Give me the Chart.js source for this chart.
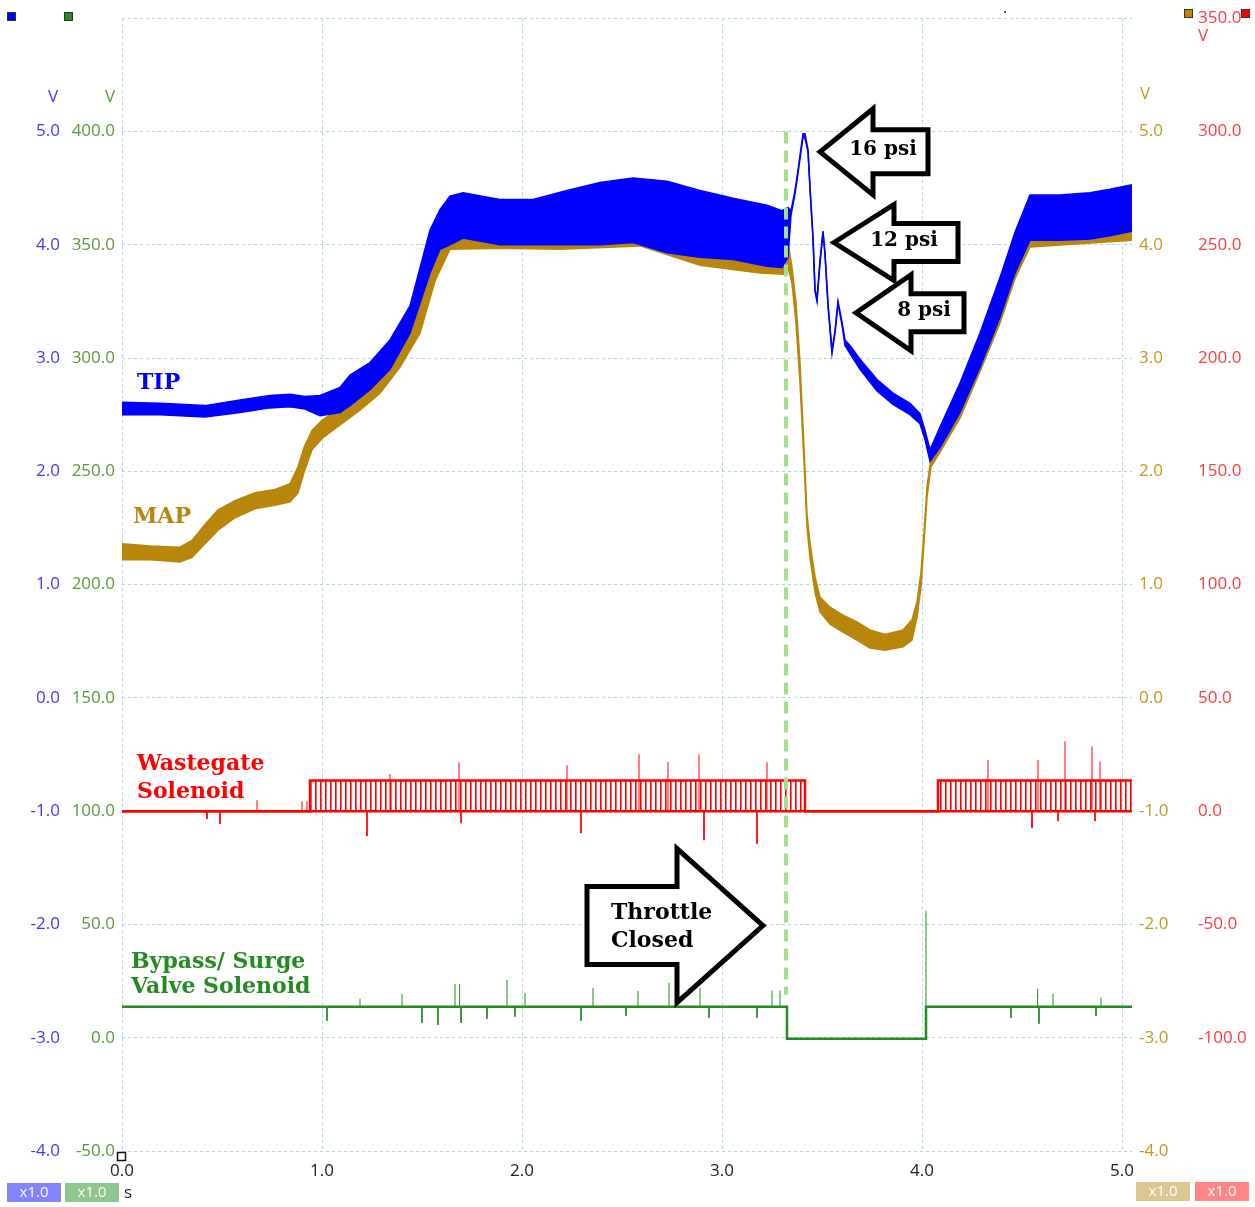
<!DOCTYPE html>
<html>
<head>
<meta charset="utf-8">
<script src="https://cdn.jsdelivr.net/npm/chart.js@4.4.1/dist/chart.umd.min.js"></script>
<style>
  html, body { margin: 0; padding: 0; background: #fff; }
  canvas { display: block; }
</style>
</head>
<body>
<canvas id="scope" width="1255" height="1207"></canvas>
<script>
// --- DATA ---
// tick labels of the four channels and the time axis
const timeTicks = [0, 1, 2, 3, 4, 5];
const voltTicks = [-4, -3, -2, -1, 0, 1, 2, 3, 4, 5, 6];
const greenTicks = [-50, 0, 50, 100, 150, 200, 250, 300, 350, 400];
const redTicks = [-100, -50, 0, 50, 100, 150, 200, 250, 300, 350];

// TIP (blue, V) - upper / lower envelope of the noisy trace
const tipTime = [0, 0.19, 0.415, 0.59, 0.74, 0.84, 0.915, 0.99, 1.09, 1.14, 1.24, 1.34, 1.44, 1.54, 1.59, 1.64, 1.705,
  1.89, 2.055, 2.225, 2.39, 2.555, 2.725, 2.89, 3.055, 3.225, 3.30, 3.33, 3.345, 3.365, 3.38, 3.405, 3.415, 3.43, 3.44,
  3.455, 3.465, 3.475, 3.49, 3.505, 3.515, 3.53, 3.55, 3.565, 3.58, 3.60, 3.615, 3.64, 3.69, 3.775, 3.855, 3.94, 3.99,
  4.015, 4.04, 4.09, 4.19, 4.29, 4.39, 4.465, 4.54, 4.69, 4.84, 4.94, 5.05];
const tipHigh = [2.61, 2.60, 2.58, 2.63, 2.67, 2.68, 2.66, 2.67, 2.74, 2.85, 2.96, 3.16, 3.46, 4.13, 4.31, 4.43, 4.46,
  4.40, 4.40, 4.48, 4.55, 4.59, 4.56, 4.48, 4.41, 4.35, 4.30, 4.33, 4.30, 4.48, 4.66, 4.98, 4.98, 4.84, 4.51,
  4.07, 3.61, 3.52, 3.86, 4.12, 3.93, 3.48, 3.07, 3.24, 3.50, 3.32, 3.16, 3.11, 2.99, 2.81, 2.69, 2.60, 2.51,
  2.36, 2.19, 2.39, 2.78, 3.22, 3.71, 4.11, 4.44, 4.44, 4.46, 4.49, 4.53];
const tipLow = [2.50, 2.50, 2.48, 2.52, 2.56, 2.57, 2.55, 2.49, 2.52, 2.58, 2.72, 2.90, 3.22, 3.75, 3.96, 4.00, 4.06,
  4.00, 4.00, 4.00, 4.00, 4.02, 3.93, 3.89, 3.87, 3.81, 3.80, 3.89, 4.26, 4.45, 4.63, 4.95, 4.94, 4.82, 4.49,
  4.05, 3.59, 3.50, 3.84, 4.10, 3.91, 3.46, 3.04, 3.22, 3.48, 3.29, 3.11, 3.04, 2.90, 2.71, 2.59, 2.50, 2.42,
  2.28, 2.09, 2.21, 2.52, 2.92, 3.36, 3.75, 4.04, 4.04, 4.05, 4.08, 4.12];

// MAP (gold, V)
const mapTime = [0, 0.14, 0.29, 0.35, 0.415, 0.48, 0.565, 0.665, 0.765, 0.84, 0.88, 0.91, 0.95, 1.00, 1.09, 1.19, 1.29,
  1.39, 1.49, 1.565, 1.64, 1.89, 2.19, 2.59, 2.89, 3.19, 3.31, 3.33, 3.35, 3.37, 3.39, 3.41, 3.425, 3.44, 3.465, 3.49,
  3.54, 3.605, 3.675, 3.74, 3.815, 3.905, 3.95, 3.975, 3.995, 4.01, 4.025, 4.045, 4.09, 4.19, 4.29, 4.39, 4.465, 4.54, 5.05];
const mapHigh = [1.36, 1.34, 1.33, 1.39, 1.53, 1.66, 1.74, 1.81, 1.84, 1.89, 2.04, 2.21, 2.36, 2.45, 2.56, 2.71, 2.94,
  3.26, 3.62, 4.09, 4.37, 4.37, 4.41, 4.50, 4.41, 4.30, 4.26, 4.02, 3.80, 3.49, 2.96, 2.21, 1.62, 1.37, 1.07, 0.89,
  0.80, 0.73, 0.67, 0.60, 0.56, 0.60, 0.69, 0.85, 1.11, 1.46, 1.86, 2.12, 2.33, 2.72, 3.17, 3.65, 4.05, 4.38, 4.46];
const mapLow = [1.22, 1.22, 1.20, 1.24, 1.36, 1.48, 1.59, 1.67, 1.70, 1.73, 1.81, 1.99, 2.19, 2.29, 2.41, 2.54, 2.69,
  2.92, 3.22, 3.68, 3.96, 3.97, 3.96, 3.99, 3.82, 3.75, 3.74, 3.80, 3.66, 3.31, 2.78, 2.08, 1.51, 1.24, 0.93, 0.76,
  0.65, 0.58, 0.51, 0.44, 0.42, 0.45, 0.51, 0.71, 0.98, 1.37, 1.77, 2.04, 2.17, 2.47, 2.88, 3.31, 3.70, 3.98, 4.04];

// Wastegate solenoid (red, V): pulse-train envelope and single spikes
const wgTime = [0, 0.94, 0.94, 3.415, 3.415, 4.08, 4.08, 5.05];
const wgHigh = [0, 0, 13.5, 13.5, 0, 0, 13.5, 13.5];
const wgLow = [0, 0, 0, 0, 0, 0, 0, 0];
const wgSpikeTime = [0.425, 0.49, 0.675, 0.90, 0.925, 1.225, 1.34, 1.685, 1.695, 2.225, 2.295, 2.585, 2.73, 2.885,
  2.91, 3.175, 3.225, 4.33, 4.55, 4.58, 4.68, 4.715, 4.85, 4.865, 4.89];
const wgSpikeValue = [-3.5, -5.7, 4.8, 4.4, 4.4, -11, 16.3, 21.6, -5.3, 20.3, -9.7, 25.1, 21.6, 25.1,
  -12.8, -14.5, 21.6, 22.5, -7.5, 22.5, -4.4, 30.8, 28.6, -4.4, 22];

// Bypass / surge valve solenoid (green, V)
const bpTime = [0, 3.325, 3.325, 4.02, 4.02, 5.05];
const bpValue = [13.7, 13.7, -0.5, -0.5, 13.7, 13.7];
const bpSpikeTime = [1.025, 1.19, 1.40, 1.50, 1.58, 1.665, 1.688, 1.695, 1.825, 1.925, 1.965, 2.015, 2.295, 2.355,
  2.52, 2.58, 2.735, 2.89, 2.935, 3.175, 3.25, 3.29, 4.02, 4.445, 4.578, 4.585, 4.655, 4.87, 4.895];
const bpSpikeValue = [7.5, 17.2, 19.4, 6.6, 5.7, 23.8, 23.8, 6.6, 8.4, 25.5, 9.3, 19.8, 7.5, 22,
  9.7, 20.7, 24.2, 22, 8.8, 8.8, 20.7, 20.7, 56, 8.8, 21.6, 6.2, 19.4, 9.7, 17.6];

// throttle closed marker (s) and its extent on the blue scale
const throttleTime = 3.32;
const throttleSpan = [5.0, -2.62];


// --- HELPERS ---
const pts = (xs, ys) => xs.map((x, i) => ({ x: x, y: ys[i] }));
// each spike is its own short vertical stroke, separated by a gap
const spikes = (xs, ys, base) => xs.flatMap((x, i) => [{ x: x, y: base }, { x: x, y: ys[i] }, { x: x, y: null }]);

const canvas = document.getElementById("scope");
const ctx0 = canvas.getContext("2d");

// vertical stripes for the dense PWM comb
function stripes(color, gap) {
  const c = document.createElement("canvas");
  c.width = gap; c.height = 4;
  const g = c.getContext("2d");
  g.fillStyle = color;
  g.fillRect(0, 0, 1.6, 4);
  return ctx0.createPattern(c, "repeat");
}

const BLUE = "#0000ff", GOLD = "#b8860b", RED = "#ff0000", GREEN = "#228b22";
const GRID = "#a9d6e5";
const tickFont = { family: "'Open Sans', 'Noto Sans', sans-serif", size: 17 };
const fix = list => scale => { scale.ticks = list.map(v => ({ value: v })); };
const width = w => scale => { scale.width = w; };


// --- DECORATIONS (labels, arrows, channel markers) ---
function arrow(ctx, tx, ty, dir, headLen, headHalf, shaftHalf, total) {
  const d = dir;
  ctx.beginPath();
  ctx.moveTo(tx, ty);
  ctx.lineTo(tx + d * headLen, ty - headHalf);
  ctx.lineTo(tx + d * headLen, ty - shaftHalf);
  ctx.lineTo(tx + d * total, ty - shaftHalf);
  ctx.lineTo(tx + d * total, ty + shaftHalf);
  ctx.lineTo(tx + d * headLen, ty + shaftHalf);
  ctx.lineTo(tx + d * headLen, ty + headHalf);
  ctx.closePath();
  ctx.fillStyle = "#fff";
  ctx.fill();
  ctx.lineWidth = 5;
  ctx.lineJoin = "miter";
  ctx.strokeStyle = "#000";
  ctx.stroke();
}

const serif = s => "bold " + s + "px 'DejaVu Serif', 'Liberation Serif', serif";

const decorations = {
  id: "decorations",
  afterDatasetsDraw(chart) {
    const ctx = chart.ctx;
    const X = t => chart.scales.x.getPixelForValue(t);
    const Y = v => chart.scales.y.getPixelForValue(v);
    ctx.save();

    // trace names
    ctx.textBaseline = "middle";
    ctx.textAlign = "left";
    ctx.font = serif(22);
    ctx.fillStyle = BLUE;  ctx.fillText("TIP", X(0.075), Y(2.775));
    ctx.fillStyle = GOLD;  ctx.fillText("MAP", X(0.055), Y(1.595));
    ctx.fillStyle = RED;
    ctx.fillText("Wastegate", X(0.075), Y(-0.59));
    ctx.fillText("Solenoid", X(0.075), Y(-0.83));
    ctx.fillStyle = GREEN;
    ctx.fillText("Bypass/ Surge", X(0.045), Y(-2.33));
    ctx.fillText("Valve Solenoid", X(0.045), Y(-2.555));

    // pressure call-outs
    const callouts = [
      { text: "16 psi", t: 3.49, v: 4.82, head: 53, half: 43, shaft: 22, len: 108, dx: 63 },
      { text: "12 psi", t: 3.56, v: 4.02, head: 60, half: 38, shaft: 19, len: 124, dx: 70 },
      { text: "8 psi", t: 3.67, v: 3.40, head: 55, half: 38, shaft: 19, len: 108, dx: 68 }
    ];
    callouts.forEach(c => {
      const tx = X(c.t), ty = Y(c.v);
      arrow(ctx, tx, ty, 1, c.head, c.half, c.shaft, c.len);
      ctx.fillStyle = "#000";
      ctx.font = serif(20);
      ctx.textAlign = "center";
      ctx.fillText(c.text, tx + c.dx, ty - 2);
    });

    // throttle closed
    const tx = X(3.205), ty = Y(-2.01);
    arrow(ctx, tx, ty, -1, 86, 77, 39, 176);
    ctx.fillStyle = "#000";
    ctx.font = serif(22);
    ctx.textAlign = "left";
    ctx.fillText("Throttle", tx - 152, ty - 12);
    ctx.fillText("Closed", tx - 152, ty + 16);
    ctx.restore();
  },
  afterDraw(chart) {
    const ctx = chart.ctx;
    ctx.save();
    const square = (x, y, fill) => {
      ctx.fillStyle = fill;
      ctx.fillRect(x, y, 8, 8);
      ctx.strokeStyle = "#333";
      ctx.lineWidth = 1;
      ctx.strokeRect(x + 0.5, y + 0.5, 8, 8);
    };
    square(7, 12, BLUE);
    square(64, 12, GREEN);
    square(1184, 9, GOLD);
    square(1241, 9, RED);

    // unit labels
    ctx.font = "17px 'Open Sans', sans-serif";
    ctx.textAlign = "center";
    ctx.textBaseline = "middle";
    ctx.fillStyle = "#3b3bff"; ctx.fillText("V", 53, 97);
    ctx.fillStyle = "#5a9a3a"; ctx.fillText("V", 110, 97);
    ctx.fillStyle = "#c8961e"; ctx.fillText("V", 1145, 94);
    ctx.fillStyle = "#ff3b3b"; ctx.fillText("V", 1203, 36);

    // origin marker and time unit
    ctx.strokeStyle = "#111";
    ctx.lineWidth = 1.5;
    ctx.strokeRect(117.5, 1152.5, 8, 8);
    ctx.fillStyle = "#555";
    ctx.fillRect(1004, 11, 2, 2);
    ctx.fillStyle = "#222";
    ctx.textAlign = "left";
    ctx.fillText("s", 124, 1193);

    // scale factor boxes
    const box = (x, y, fill) => {
      ctx.fillStyle = fill;
      ctx.fillRect(x, y, 54, 19);
      ctx.fillStyle = "#fff";
      ctx.font = "15px 'Open Sans', sans-serif";
      ctx.textAlign = "center";
      ctx.fillText("x1.0", x + 27, y + 10);
    };
    box(7, 1183, "#8484ff");
    box(65, 1183, "#8fc88f");
    box(1136, 1182, "#dbc68e");
    box(1195, 1182, "#ff8686");
    ctx.restore();
  }
};


// --- CHART ---
new Chart(canvas, {
  type: "line",
  data: {
    datasets: [
      { data: pts(tipTime, tipHigh), yAxisID: "y", borderColor: BLUE, backgroundColor: BLUE, borderWidth: 1.5, fill: "+1", order: 1 },
      { data: pts(tipTime, tipLow), yAxisID: "y", borderColor: BLUE, borderWidth: 1.5, fill: false, order: 1 },
      { data: pts(mapTime, mapHigh), yAxisID: "yMap", borderColor: GOLD, backgroundColor: GOLD, borderWidth: 1.5, fill: "+1", order: 2 },
      { data: pts(mapTime, mapLow), yAxisID: "yMap", borderColor: GOLD, borderWidth: 1.5, fill: false, order: 2 },
      { data: pts(wgTime, wgHigh), yAxisID: "yRed", borderColor: RED, backgroundColor: stripes(RED, 5), borderWidth: 2.5, fill: "+1", order: 3 },
      { data: pts(wgTime, wgLow), yAxisID: "yRed", borderColor: RED, borderWidth: 2.5, fill: false, order: 3 },
      { data: spikes(wgSpikeTime, wgSpikeValue, 0), yAxisID: "yRed", borderColor: RED, borderWidth: 1, fill: false, spanGaps: false, order: 3 },
      { data: pts(bpTime, bpValue), yAxisID: "yGreen", borderColor: GREEN, borderWidth: 2.5, fill: false, order: 3 },
      { data: spikes(bpSpikeTime, bpSpikeValue, bpValue[0]), yAxisID: "yGreen", borderColor: GREEN, borderWidth: 1, fill: false, spanGaps: false, order: 3 },
      { data: throttleSpan.map(v => ({ x: throttleTime, y: v })), yAxisID: "y", borderColor: "#a4e08a", borderWidth: 4,
        borderDash: [12, 7], fill: false, order: 0 }
    ]
  },
  options: {
    responsive: false,
    animation: false,
    events: [],
    parsing: false,
    layout: { padding: { top: 15, left: 0, right: 0, bottom: 0 } },
    elements: { point: { radius: 0 }, line: { tension: 0, borderJoinStyle: "miter" } },
    plugins: { legend: { display: false }, tooltip: { enabled: false } },
    scales: {
      x: {
        type: "linear", min: 0, max: 5.05,
        afterBuildTicks: fix(timeTicks),
        afterFit: scale => { scale.height = 56; },
        grid: { color: GRID, lineWidth: 1, drawTicks: false },
        border: { display: false, dash: [3, 3] },
        ticks: { color: "#222", font: tickFont, padding: 10, maxRotation: 0, autoSkip: false,
                 callback: v => v.toFixed(1) }
      },
      y: {
        position: "left", weight: 2, min: -4, max: 6,
        afterBuildTicks: fix(voltTicks),
        afterFit: width(62),
        grid: { color: GRID, lineWidth: 1, drawTicks: false },
        border: { display: false, dash: [3, 3] },
        ticks: { color: "#3b3bff", font: tickFont, padding: 2, autoSkip: false,
                 callback: v => v > 5 ? "" : v.toFixed(1) }
      },
      yGreen: {
        position: "left", weight: 1, min: -50, max: 450,
        afterBuildTicks: fix(greenTicks),
        afterFit: width(60),
        grid: { display: false, drawTicks: false },
        border: { display: false },
        ticks: { color: "#5a9a3a", font: tickFont, padding: 7, autoSkip: false, callback: v => v.toFixed(1) }
      },
      yMap: {
        position: "right", weight: 1, min: -4, max: 6,
        afterBuildTicks: fix(voltTicks.filter(v => v <= 5)),
        afterFit: width(58),
        grid: { display: false, drawTicks: false },
        border: { display: false },
        ticks: { color: "#c8961e", font: tickFont, padding: 7, autoSkip: false, callback: v => v.toFixed(1) }
      },
      yRed: {
        position: "right", weight: 2, min: -150, max: 350,
        afterBuildTicks: fix(redTicks),
        afterFit: width(65),
        grid: { display: false, drawTicks: false },
        border: { display: false },
        ticks: { color: "#ff3b3b", font: tickFont, padding: 8, autoSkip: false, callback: v => v.toFixed(1) }
      }
    }
  },
  plugins: [decorations]
});
</script>
</body>
</html>
